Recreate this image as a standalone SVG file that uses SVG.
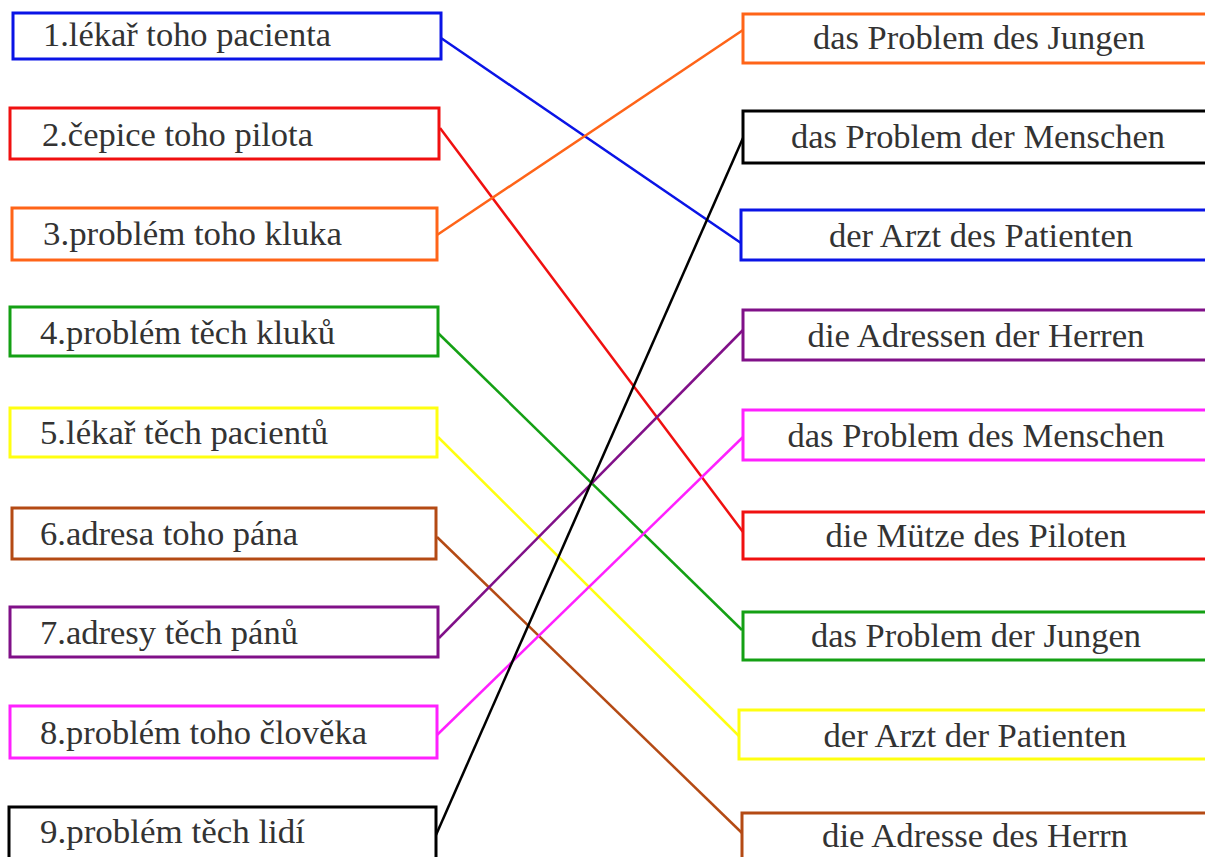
<svg xmlns="http://www.w3.org/2000/svg" width="1205" height="857" viewBox="0 0 1205 857">
<style>
.b{fill:#fff;stroke-width:3}
.t{font-family:"Liberation Serif","Times New Roman",serif;font-size:33px;fill:#333}
.r{text-anchor:middle}
.c{fill:none;stroke-width:2.5}
</style>
<rect width="1205" height="857" fill="#fff"/>
<g id="connectors">
<line class="c" stroke="#0a14e6" x1="441" y1="38" x2="741" y2="243"/>
<line class="c" stroke="#f01010" x1="440" y1="128" x2="743" y2="532"/>
<line class="c" stroke="#ff6418" x1="437" y1="235" x2="743" y2="30"/>
<line class="c" stroke="#14a014" x1="438" y1="333" x2="742" y2="630"/>
<line class="c" stroke="#ffff10" x1="438" y1="437" x2="741" y2="738"/>
<line class="c" stroke="#b44a14" x1="437" y1="537" x2="742" y2="833"/>
<line class="c" stroke="#801088" x1="439" y1="638" x2="743" y2="330"/>
<line class="c" stroke="#ff20ff" x1="437" y1="735" x2="743" y2="437"/>
<line class="c" stroke="#000" x1="436" y1="835" x2="743" y2="138"/>
</g>
<g id="l1"><rect class="b" stroke="#0a14e6" x="13" y="13" width="428" height="46"/><text class="t" x="43" y="46" textLength="288" lengthAdjust="spacingAndGlyphs">1.lékař toho pacienta</text></g>
<g id="l2"><rect class="b" stroke="#f01010" x="10" y="108" width="429" height="51"/><text class="t" x="42" y="146" textLength="271" lengthAdjust="spacingAndGlyphs">2.čepice toho pilota</text></g>
<g id="l3"><rect class="b" stroke="#ff6418" x="12" y="208" width="425" height="52"/><text class="t" x="43" y="245" textLength="299" lengthAdjust="spacingAndGlyphs">3.problém toho kluka</text></g>
<g id="l4"><rect class="b" stroke="#14a014" x="10" y="307" width="428" height="49"/><text class="t" x="40" y="344" textLength="295" lengthAdjust="spacingAndGlyphs">4.problém těch kluků</text></g>
<g id="l5"><rect class="b" stroke="#ffff10" x="10" y="408" width="427" height="49"/><text class="t" x="40" y="444" textLength="288" lengthAdjust="spacingAndGlyphs">5.lékař těch pacientů</text></g>
<g id="l6"><rect class="b" stroke="#b44a14" x="12" y="508" width="424" height="51"/><text class="t" x="40" y="545" textLength="258" lengthAdjust="spacingAndGlyphs">6.adresa toho pána</text></g>
<g id="l7"><rect class="b" stroke="#801088" x="10" y="607" width="428" height="50"/><text class="t" x="40" y="644" textLength="258" lengthAdjust="spacingAndGlyphs">7.adresy těch pánů</text></g>
<g id="l8"><rect class="b" stroke="#ff20ff" x="10" y="706" width="427" height="52"/><text class="t" x="40" y="744" textLength="327" lengthAdjust="spacingAndGlyphs">8.problém toho člověka</text></g>
<g id="l9"><rect class="b" stroke="#000" x="9" y="807" width="427" height="55"/><text class="t" x="40" y="843" textLength="265" lengthAdjust="spacingAndGlyphs">9.problém těch lidí</text></g>
<g id="r1"><rect class="b" stroke="#ff6418" x="743" y="14" width="480" height="49"/><text class="t r" x="979" y="49" textLength="332" lengthAdjust="spacingAndGlyphs">das Problem des Jungen</text></g>
<g id="r2"><rect class="b" stroke="#000" x="743" y="111" width="480" height="52"/><text class="t r" x="978" y="148" textLength="374" lengthAdjust="spacingAndGlyphs">das Problem der Menschen</text></g>
<g id="r3"><rect class="b" stroke="#0a14e6" x="741" y="210" width="480" height="50"/><text class="t r" x="981" y="247" textLength="304" lengthAdjust="spacingAndGlyphs">der Arzt des Patienten</text></g>
<g id="r4"><rect class="b" stroke="#801088" x="743" y="310" width="480" height="50"/><text class="t r" x="976" y="347" textLength="337" lengthAdjust="spacingAndGlyphs">die Adressen der Herren</text></g>
<g id="r5"><rect class="b" stroke="#ff20ff" x="743" y="410" width="480" height="50"/><text class="t r" x="976" y="447" textLength="377" lengthAdjust="spacingAndGlyphs">das Problem des Menschen</text></g>
<g id="r6"><rect class="b" stroke="#f01010" x="743" y="512" width="480" height="47"/><text class="t r" x="976" y="547" textLength="301" lengthAdjust="spacingAndGlyphs">die Mütze des Piloten</text></g>
<g id="r7"><rect class="b" stroke="#14a014" x="743" y="612" width="480" height="48"/><text class="t r" x="976" y="647" textLength="330" lengthAdjust="spacingAndGlyphs">das Problem der Jungen</text></g>
<g id="r8"><rect class="b" stroke="#ffff10" x="739" y="710" width="480" height="49"/><text class="t r" x="975" y="747" textLength="303" lengthAdjust="spacingAndGlyphs">der Arzt der Patienten</text></g>
<g id="r9"><rect class="b" stroke="#b44a14" x="742" y="813" width="480" height="55"/><text class="t r" x="975" y="847" textLength="306" lengthAdjust="spacingAndGlyphs">die Adresse des Herrn</text></g>
</svg>
